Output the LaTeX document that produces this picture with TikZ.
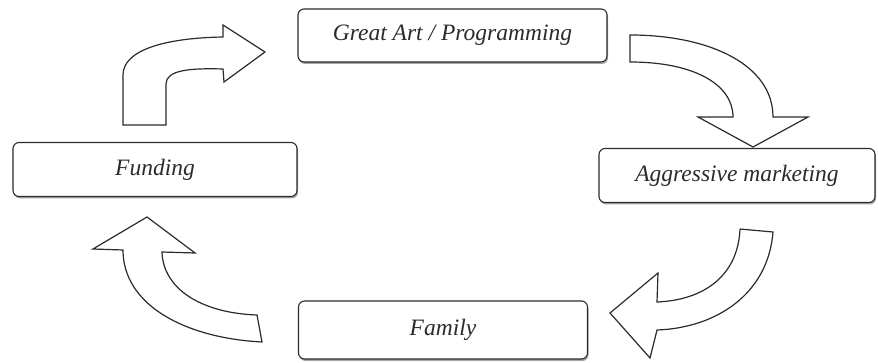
\documentclass[tikz,border=0pt]{standalone}
\usepackage{fontspec}
\setmainfont{Liberation Serif}
\usepackage{tikz}
\usepackage{xcolor}
\usetikzlibrary{shadows}
\definecolor{inkgray}{HTML}{2B2B2B}
\tikzset{
    cycle-box/.style = {draw=inkgray, fill=white, line width=1.1pt, rectangle, rounded corners=6pt, inner sep=0pt, drop shadow={shadow xshift=1pt, shadow yshift=-2pt, fill=gray!70, opacity=1}, font=\fontsize{23.5}{26}\selectfont\itshape, text=inkgray},
    block-arrow/.style = {draw=inkgray, fill=white, line width=1.2pt, line join=miter},
}

\begin{document}
\begin{tikzpicture}[x=1pt, y=-1pt]
\useasboundingbox (0,0) rectangle (878,363);
\node[cycle-box, minimum width=309pt, minimum height=53pt] (art) at (452.5,35.5) {Great Art / Programming};
\node[cycle-box, minimum width=284pt, minimum height=54pt] (funding) at (155,169.5) {Funding};
\node[cycle-box, minimum width=276pt, minimum height=54pt] (marketing) at (737,175.5) {Aggressive marketing};
\node[cycle-box, minimum width=289pt, minimum height=58pt] (family) at (443,330) {Family};
\draw[block-arrow] (123,125) -- (123,75) .. controls (123,50) and (165,38) .. (223,37) -- (223,25) -- (265,52) -- (224,82) -- (223,69) .. controls (190,68) and (166,70) .. (166,84) -- (166,125) -- cycle;
\draw[block-arrow] (630,35) .. controls (710,35) and (773,65) .. (773,117) -- (808,117) -- (753,147) -- (698,117) -- (733,117) .. controls (733,85) and (695,62) .. (630,62) -- cycle;
\draw[block-arrow] (740,229) -- (773,232) .. controls (768,295) and (715,328) .. (657,330) -- (650,358) -- (610,313) -- (658,273) -- (657,302) .. controls (705,300) and (738,275) .. (740,229);
\draw[block-arrow] (257,315) -- (262,342) .. controls (185,338) and (123,305) .. (123,250) -- (93,249) -- (147,217) -- (195,253) -- (162,252) .. controls (163,288) and (200,313) .. (257,315) -- cycle;
\end{tikzpicture}
\end{document}
